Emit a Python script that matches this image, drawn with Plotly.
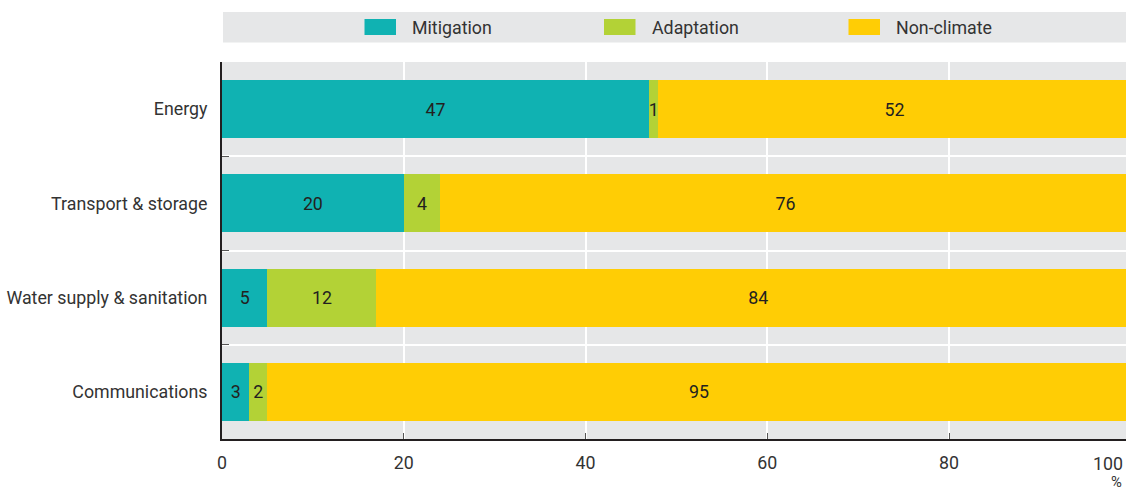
import plotly.graph_objects as go

# ---- data ----
categories = ["Energy", "Transport & storage", "Water supply & sanitation", "Communications"]
mitigation = [47, 20, 5, 3]
adaptation = [1, 4, 12, 2]
non_climate = [52, 76, 84, 95]
series_names = ["Mitigation", "Adaptation", "Non-climate"]
x_ticks = [0, 20, 40, 60, 80]
x_last_tick = "100"
x_unit = "%"

# ---- style ----
W, H = 1126, 494
ML, MR, MT, MB = 222, 0, 62, 55
PW, PH = W - ML - MR, H - MT - MB
colors = ["#10b2b2", "#b3d236", "#ffcd05"]
GREY = "#e6e7e8"
DARK = "#231f20"
TXT = "#333333"
FONT = "Roboto, sans-serif"
FS = 17.8

def px(x):
    return (x - ML) / PW

def py(y):
    return (H - MB - y) / PH

fig = go.Figure()
for name, vals, col in zip(series_names, [mitigation, adaptation, non_climate], colors):
    fig.add_trace(go.Bar(
        y=categories, x=vals, name=name, orientation="h",
        marker=dict(color=col, line=dict(width=0)),
        text=[str(v) for v in vals], textposition="inside",
        insidetextanchor="middle", constraintext="none",
        textfont=dict(family=FONT, size=FS, color=DARK),
        showlegend=False,
    ))

shapes = []
annotations = []
# legend band
shapes.append(dict(type="rect", xref="paper", yref="paper", x0=px(223), x1=1,
                   y0=py(42.5), y1=py(12), fillcolor=GREY, line=dict(width=0), layer="below"))
legend_sq = [364.5, 604, 848.5]
legend_tx = [410, 649.5, 894]
for name, col, sx, tx in zip(series_names, colors, legend_sq, legend_tx):
    shapes.append(dict(type="rect", xref="paper", yref="paper", x0=px(sx), x1=px(sx + 31.5),
                       y0=py(35), y1=py(19), fillcolor=col, line=dict(width=0)))
    annotations.append(dict(text=name, xref="paper", yref="paper", x=px(tx), y=py(27.5),
                            xanchor="left", yanchor="middle", showarrow=False,
                            font=dict(family=FONT, size=FS, color=TXT)))
annotations.append(dict(text=x_last_tick, xref="paper", yref="paper", x=px(1125), y=py(463),
                        xanchor="right", yanchor="middle", showarrow=False,
                        font=dict(family=FONT, size=FS, color=TXT)))
annotations.append(dict(text=x_unit, xref="paper", yref="paper", x=px(1124), y=py(482),
                        xanchor="right", yanchor="middle", showarrow=False,
                        font=dict(family=FONT, size=FS - 3, color=TXT)))

fig.update_layout(
    width=W, height=H,
    margin=dict(l=ML, r=MR, t=MT, b=MB, pad=0),
    barmode="stack", bargap=0.385,
    paper_bgcolor="white", plot_bgcolor=GREY,
    font=dict(family=FONT, size=FS, color=TXT),
    uniformtext=dict(mode="show", minsize=FS),
    shapes=shapes, annotations=annotations,
    xaxis=dict(range=[0, PW / 9.0875], tickvals=x_ticks, ticktext=[str(v) for v in x_ticks],
               showgrid=True, gridcolor="white", gridwidth=2,
               zeroline=False, showline=True, linecolor=DARK, linewidth=2,
               ticks="inside", ticklen=6, tickcolor="#555555", tickwidth=1,
               ticklabelstandoff=7, tickfont=dict(family=FONT, size=FS, color=TXT),
               automargin=False, fixedrange=True),
    yaxis=dict(categoryorder="array", categoryarray=categories, autorange="reversed",
               tickson="boundaries", showgrid=True, gridcolor="white", gridwidth=2,
               showline=True, linecolor=DARK, linewidth=2,
               ticks="inside", ticklen=7, tickcolor="#555555", tickwidth=1,
               ticklabelstandoff=9, tickfont=dict(family=FONT, size=FS, color=TXT),
               automargin=False, fixedrange=True),
)

fig.write_html("out.html")
